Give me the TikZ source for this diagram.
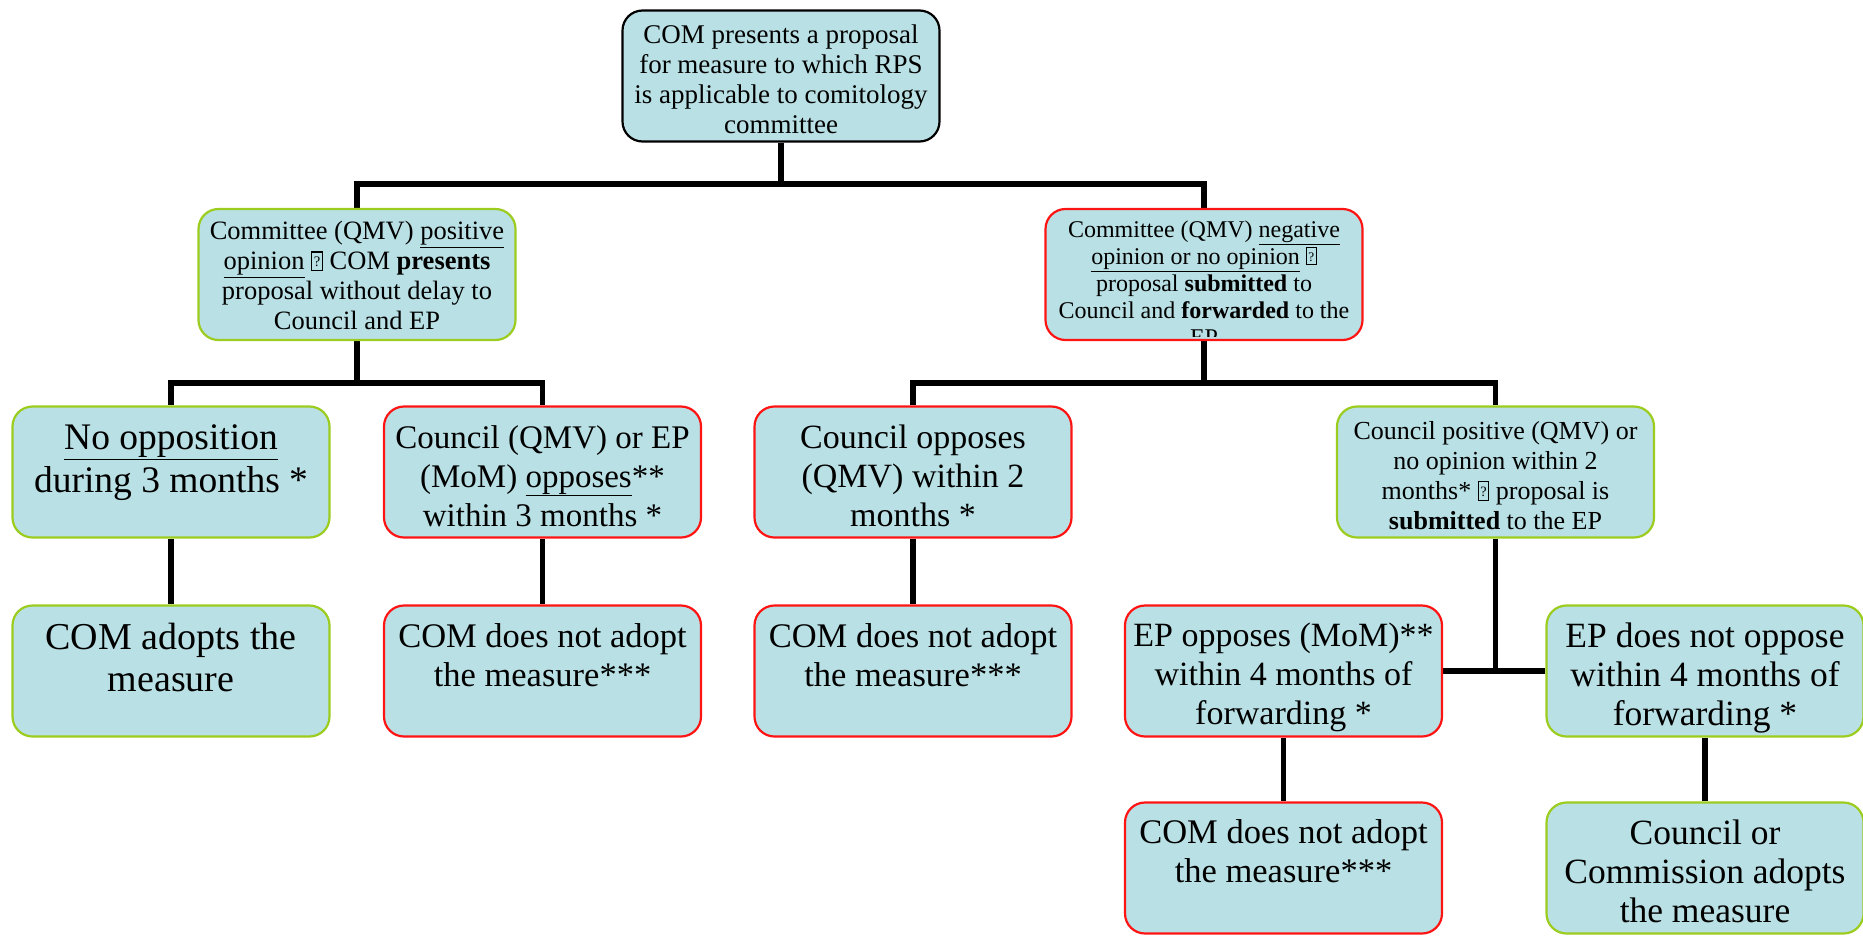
\documentclass[tikz,border=0pt]{standalone}
\usepackage{fontspec}
\usepackage{graphicx}
\setmainfont{Liberation Serif}
\pgfdeclarelayer{bg}
\pgfsetlayers{bg,main}
\definecolor{boxfill}{RGB}{185,224,228}
\definecolor{okgreen}{RGB}{155,204,31}
\definecolor{nored}{RGB}{255,20,20}
\newcommand{\qbx}{{\fboxsep=0pt\fboxrule=0.045em\fbox{\makebox[0.36em]{\rule{0pt}{0.66em}\raisebox{0.12em}{\scalebox{0.55}{?}}}}}}
\newcommand{\fs}[2]{\fontsize{#1}{#2}\selectfont}
\tikzset{
  box/.style={rectangle, rounded corners=20pt, fill=boxfill, line width=2.2pt,
    minimum width=317pt, minimum height=131pt, inner sep=0pt},
  blackbox/.style={box, draw=black},
  greenbox/.style={box, draw=okgreen},
  redbox/.style={box, draw=nored},
  txt/.style={anchor=north, align=center, inner sep=0pt},
  conn/.style={line width=5.2pt, draw=black}
}
\begin{document}
\begin{tikzpicture}[x=1pt,y=-1pt]
\useasboundingbox (0,0) rectangle (1863,935);
% boxes
\node[blackbox] (top) at (781,76) {};
\node[greenbox] (c1) at (357,274.5) {};
\node[redbox]   (c2) at (1204,274.5) {};
\node[greenbox] (A) at (171,472) {};
\node[redbox]   (B) at (542.5,472) {};
\node[redbox]   (C) at (913,472) {};
\node[greenbox] (D) at (1495.5,472) {};
\node[greenbox] (A2) at (171,671) {};
\node[redbox]   (B2) at (542.5,671) {};
\node[redbox]   (C2) at (913,671) {};
\node[redbox]   (E1) at (1283.5,671) {};
\node[greenbox] (E2) at (1705,671) {};
\node[redbox]   (F1) at (1283.5,868) {};
\node[greenbox] (F2) at (1705,868) {};
% texts
\node[txt, font=\fs{27}{30}] (ttop) at ([yshift=-15pt]top.north)
  {COM presents a proposal\\for measure to which RPS\\is applicable to comitology\\committee};
\node[txt, font=\fs{26.5}{30}] (tc1) at ([yshift=-13.5pt]c1.north)
  {Committee (QMV) \underline{positive}\\\underline{opinion} \qbx{} COM \textbf{presents}\\proposal without delay to\\Council and EP};
\begin{scope}
\clip (1046,209) rectangle (1362,336);
\node[txt, font=\fs{24}{27}] (tc2) at ([yshift=-12.5pt]c2.north)
  {Committee (QMV) \underline{negative}\\\underline{opinion or no opinion} \qbx\\proposal \textbf{submitted} to\\Council and \textbf{forwarded} to the\\EP};
\end{scope}
\node[txt, font=\fs{37.5}{43}] (tA) at ([yshift=-19.5pt]A.north)
  {\underline{No opposition}\\during 3 months *};
\node[txt, font=\fs{33}{39}] (tB) at ([yshift=-19.5pt]B.north)
  {Council (QMV) or EP\\(MoM) \underline{opposes}**\\within 3 months *};
\node[txt, font=\fs{34}{39}] (tC) at ([yshift=-19.5pt]C.north)
  {Council opposes\\(QMV) within 2\\months *};
\node[txt, font=\fs{26}{30}] (tD) at ([yshift=-16pt]D.north)
  {Council positive (QMV) or\\no opinion within 2\\months* \qbx{} proposal is\\\textbf{submitted} to the EP};
\node[txt, font=\fs{38}{42}] (tA2) at ([yshift=-19pt]A2.north)
  {COM adopts the\\measure};
\node[txt, font=\fs{34.5}{39}] (tB2) at ([yshift=-18.5pt]B2.north)
  {COM does not adopt\\the measure***};
\node[txt, font=\fs{34.5}{39}] (tC2) at ([yshift=-18.5pt]C2.north)
  {COM does not adopt\\the measure***};
\node[txt, font=\fs{34}{39}] (tE1) at ([yshift=-18.5pt]E1.north)
  {EP opposes (MoM)**\\within 4 months of\\forwarding *};
\node[txt, font=\fs{35.5}{39}] (tE2) at ([yshift=-18.5pt]E2.north)
  {EP does not oppose\\within 4 months of\\forwarding *};
\node[txt, font=\fs{34.5}{39}] (tF1) at ([yshift=-18pt]F1.north)
  {COM does not adopt\\the measure***};
\node[txt, font=\fs{35.5}{39}] (tF2) at ([yshift=-18pt]F2.north)
  {Council or\\Commission adopts\\the measure};
% connectors
\coordinate (r1) at (0,184);
\coordinate (r2) at (0,383);
\begin{pgfonlayer}{bg}
\draw[conn] (top.south) -- (top.south |- r1);
\draw[conn] (c1.north) -- (c1.north |- r1) -- (c2.north |- r1) -- (c2.north);
\draw[conn] (c1.south) -- (c1.south |- r2);
\draw[conn] (A.north) -- (A.north |- r2) -- (B.north |- r2) -- (B.north);
\draw[conn] (c2.south) -- (c2.south |- r2);
\draw[conn] (C.north) -- (C.north |- r2) -- (D.north |- r2) -- (D.north);
\draw[conn] (A.south) -- (A2.north);
\draw[conn] (B.south) -- (B2.north);
\draw[conn] (C.south) -- (C2.north);
\draw[conn] (D.south) -- (D.south |- E1.east);
\draw[conn] (E1.east) -- (E2.west);
\draw[conn] (E1.south) -- (F1.north);
\draw[conn] (E2.south) -- (F2.north);
\end{pgfonlayer}
\end{tikzpicture}
\end{document}
